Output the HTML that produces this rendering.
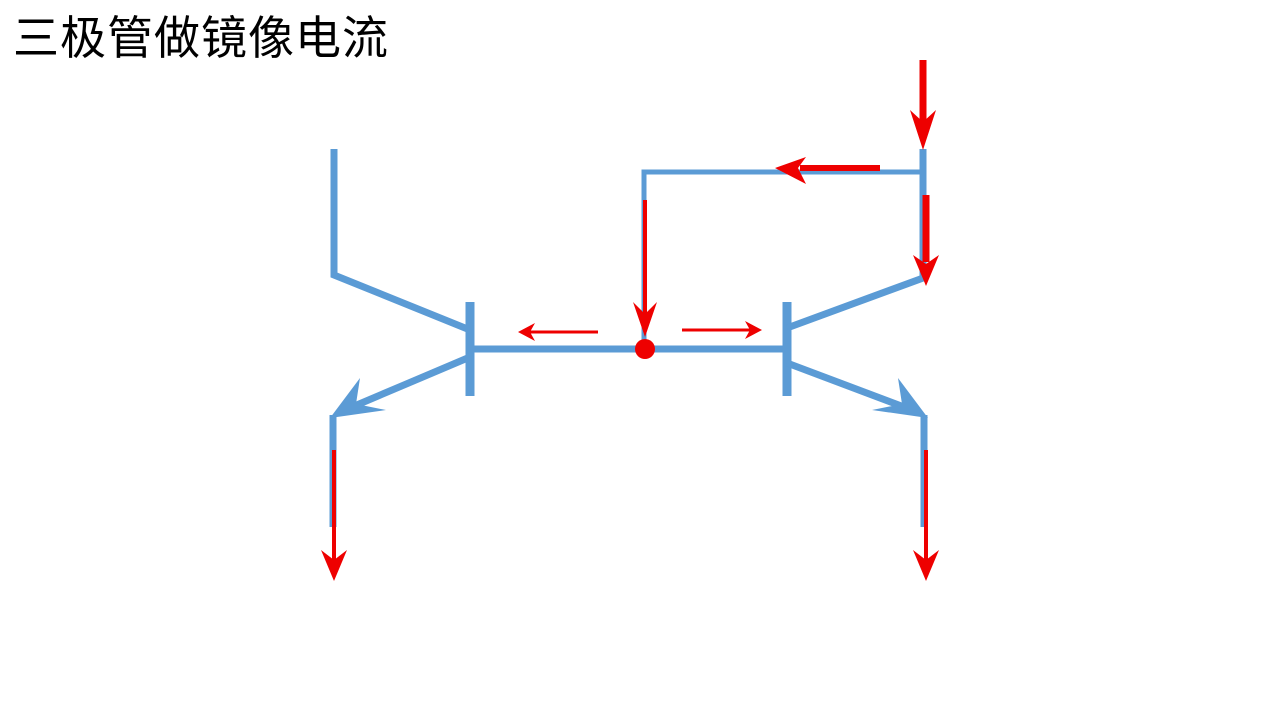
<!DOCTYPE html>
<html><head><meta charset="utf-8"><style>
html,body{margin:0;padding:0;background:#fff;width:1280px;height:720px;overflow:hidden}
.t{position:absolute;left:13px;top:8px;font-family:"Liberation Sans","Noto Sans CJK SC",sans-serif;font-size:46px;letter-spacing:1px;color:#000;line-height:60px}
svg{position:absolute;left:0;top:0}
</style></head><body>
<div class="t">三极管做镜像电流</div>
<svg width="1280" height="720" viewBox="0 0 1280 720">
<g stroke="#5b9bd5" fill="none" stroke-linecap="butt">
<polyline points="334,149 334,275 470,330" stroke-width="7"/>
<line x1="470" y1="302" x2="470" y2="396" stroke-width="9"/>
<line x1="787" y1="302" x2="787" y2="396" stroke-width="9"/>
<line x1="470" y1="349" x2="787" y2="349" stroke-width="7"/>
<polyline points="787,328 923,278 923,149" stroke-width="7"/>
<polyline points="923,172 644,172 644,345" stroke-width="5"/>
<line x1="470" y1="357" x2="345" y2="410" stroke-width="7"/>
<line x1="333" y1="415" x2="333" y2="527" stroke-width="7"/>
<line x1="787" y1="363" x2="912" y2="410" stroke-width="7"/>
<line x1="924" y1="415" x2="924" y2="527" stroke-width="7"/>
</g>
<g fill="#5b9bd5">
<polygon points="330,418 360,378 356,404 386,410"/>
<polygon points="928,418 898,378 902,404 872,410"/>
</g>
<g stroke="#ee0000" fill="none">
<line x1="923" y1="60" x2="923" y2="128" stroke-width="7"/>
<line x1="926" y1="195" x2="926" y2="262" stroke-width="7"/>
<line x1="880" y1="168" x2="800" y2="168" stroke-width="6"/>
<line x1="645" y1="200" x2="645" y2="325" stroke-width="4"/>
<line x1="598" y1="332" x2="525" y2="332" stroke-width="3"/>
<line x1="682" y1="330" x2="755" y2="330" stroke-width="3"/>
<line x1="334" y1="450" x2="334" y2="562" stroke-width="4"/>
<line x1="926" y1="450" x2="926" y2="562" stroke-width="4"/>
</g>
<g fill="#ee0000">
<polygon points="910,110 923,150 936,110 923,122"/>
<polygon points="913,255 926,286 939,255 926,264"/>
<polygon points="775,168 806,157 798,168 806,184"/>
<polygon points="633,302 645,337 657,302 645,314"/>
<polygon points="518,332 535,323 530,332 535,341"/>
<polygon points="762,330 745,321 750,330 745,339"/>
<polygon points="321,550 334,581 347,550 334,560"/>
<polygon points="913,550 926,581 939,550 926,560"/>
<circle cx="645" cy="349" r="10"/>
</g>
</svg>
</body></html>
